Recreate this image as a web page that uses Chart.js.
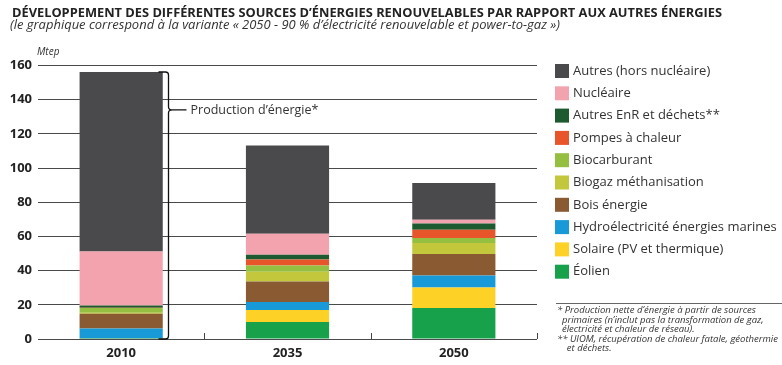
<!DOCTYPE html>
<html>
<head>
<meta charset="utf-8">
<script src="https://cdn.jsdelivr.net/npm/chart.js@4.4.1/dist/chart.umd.min.js"></script>
<style>
  html, body { margin: 0; padding: 0; background: #fff; }
  #wrap { width: 782px; height: 365px; position: relative; }
</style>
</head>
<body>
<div id="wrap"><canvas id="chart"></canvas></div>
<script>
// categories
const years = ['2010', '2035', '2050'];

// series values (Mtep), bottom of the stack first
const eolien = [0.2, 9.9, 18.1];
const solaire = [0.1, 7.1, 12.1];
const hydro = [5.9, 4.6, 7.0];
const bois = [8.6, 12.1, 12.5];
const biogaz = [0.5, 5.7, 6.4];
const biocarburant = [2.8, 3.6, 3.0];
const pompes = [0.2, 3.5, 4.8];
const autresEnr = [1.3, 2.8, 3.7];
const nucleaire = [31.6, 12.3, 2.2];
const autres = [105.0, 51.6, 21.4];

const seriesNames = [
  'Éolien', 'Solaire (PV et thermique)', 'Hydroélectricité énergies marines',
  'Bois énergie', 'Biogaz méthanisation', 'Biocarburant', 'Pompes à chaleur',
  'Autres EnR et déchets**', 'Nucléaire', 'Autres (hors nucléaire)'
];
const seriesValues = [eolien, solaire, hydro, bois, biogaz, biocarburant, pompes, autresEnr, nucleaire, autres];
const seriesColors = ['#17a14b', '#fdd125', '#199ad8', '#8a5a33', '#c3c73c', '#95bf40', '#e8552b', '#1d5a2f', '#f3a3ad', '#4a4a4c'];

// y axis ticks
const yMin = 0, yMax = 160, yStep = 20;

const titleText = 'DÉVELOPPEMENT DES DIFFÉRENTES SOURCES D\u2019ÉNERGIES RENOUVELABLES PAR RAPPORT AUX AUTRES ÉNERGIES';
const subtitleText = '(le graphique correspond à la variante « 2050 - 90 % d\u2019électricité renouvelable et power-to-gaz »)';
const unitText = 'Mtep';
const bracketText = 'Production d\u2019énergie*';
const bracketAt = 134; // value where the brace points
const footnotes = [
  '* Production nette d\u2019énergie à partir de sources',
  '  primaires (n\u2019inclut pas la transformation de gaz,',
  '  électricité et chaleur de réseau).',
  '** UIOM, récupération de chaleur fatale, géothermie',
  '    et déchets.'
];

const FONT = '"Open Sans", "Noto Sans", sans-serif';

// draw text squeezed to a given width
function fitText(ctx, text, x, y, width) {
  const w = ctx.measureText(text).width;
  ctx.save();
  ctx.translate(x, y);
  ctx.scale(Math.min(1, width / w), 1);
  ctx.fillText(text, 0, 0);
  ctx.restore();
}

const decorations = {
  id: 'decorations',
  afterDraw(chart) {
    const ctx = chart.ctx;
    const { x, y } = chart.scales;
    const area = chart.chartArea;
    ctx.save();

    // titles
    ctx.fillStyle = '#222';
    ctx.textBaseline = 'alphabetic';
    ctx.textAlign = 'left';
    ctx.font = 'bold 13px ' + FONT;
    fitText(ctx, titleText, 12, 16.5, 710);
    ctx.fillStyle = '#333';
    ctx.font = 'italic 13px ' + FONT;
    fitText(ctx, subtitleText, 10, 29, 550);
    ctx.font = 'italic 10px ' + FONT;
    ctx.fillText(unitText, 37, 55);

    // small inner ticks at category boundaries
    ctx.strokeStyle = '#444';
    ctx.lineWidth = 1;
    ctx.beginPath();
    for (let i = 0; i < years.length; i++) {
      const bx = i < years.length - 1
        ? (x.getPixelForTick(i) + x.getPixelForTick(i + 1)) / 2
        : area.right;
      ctx.moveTo(Math.round(bx) + 0.5, area.bottom);
      ctx.lineTo(Math.round(bx) + 0.5, area.bottom - 6);
    }
    ctx.stroke();

    // brace on the 2010 bar
    const topMeta = chart.getDatasetMeta(seriesValues.length - 1);
    const bar = topMeta.data[0];
    const bx = Math.round(bar.x + bar.width / 2 + 5) + 0.5;
    const top = bar.y;
    const bottom = y.getPixelForValue(0);
    const mid = y.getPixelForValue(bracketAt);
    ctx.strokeStyle = '#111';
    ctx.lineWidth = 1.3;
    ctx.beginPath();
    ctx.moveTo(bx - 10, top);
    ctx.lineTo(bx - 3, top);
    ctx.quadraticCurveTo(bx, top, bx, top + 3);
    ctx.lineTo(bx, mid - 3);
    ctx.quadraticCurveTo(bx, mid, bx + 4, mid);
    ctx.quadraticCurveTo(bx, mid, bx, mid + 3);
    ctx.lineTo(bx, bottom - 3);
    ctx.quadraticCurveTo(bx, bottom, bx - 3, bottom);
    ctx.lineTo(bx - 10, bottom);
    ctx.moveTo(bx + 4, mid);
    ctx.lineTo(bx + 18, mid);
    ctx.stroke();
    ctx.fillStyle = '#333';
    ctx.font = '12.5px ' + FONT;
    ctx.textBaseline = 'middle';
    ctx.fillText(bracketText, bx + 22, mid);

    // legend, top of the stack first
    ctx.font = '13px ' + FONT;
    ctx.textBaseline = 'middle';
    for (let i = 0; i < seriesNames.length; i++) {
      const k = seriesNames.length - 1 - i;
      const cy = 71 + i * 22.3;
      ctx.fillStyle = seriesColors[k];
      ctx.fillRect(555, cy - 7, 14, 14);
      ctx.fillStyle = '#333';
      fitText(ctx, seriesNames[k], 573, cy, 205);
    }

    // footnotes
    ctx.strokeStyle = '#666';
    ctx.lineWidth = 1;
    ctx.beginPath();
    ctx.moveTo(556, 303.5);
    ctx.lineTo(782, 303.5);
    ctx.stroke();
    ctx.fillStyle = '#333';
    ctx.font = 'italic 9.5px ' + FONT;
    footnotes.forEach((line, i) => {
      ctx.fillText(line, 557, 310.5 + i * 9.5);
    });

    ctx.restore();
  }
};

const datasets = seriesValues.map((vals, i) => ({
  label: seriesNames[i],
  data: vals,
  backgroundColor: seriesColors[i],
  borderWidth: 0,
  barPercentage: 0.5,
  categoryPercentage: 1
}));

new Chart(document.getElementById('chart'), {
  type: 'bar',
  data: { labels: years, datasets: datasets },
  plugins: [decorations],
  options: {
    responsive: true,
    maintainAspectRatio: false,
    animation: false,
    layout: { padding: { left: 0, right: 245, top: 65.5, bottom: 0 } },
    plugins: {
      legend: { display: false },
      tooltip: { enabled: false }
    },
    scales: {
      x: {
        stacked: true,
        afterFit: (s) => { s.height = 26; },
        grid: { display: false, drawTicks: false },
        border: { display: false },
        ticks: { color: '#222', padding: 6, font: { family: FONT, size: 13, weight: 'bold' } }
      },
      y: {
        stacked: true,
        min: yMin,
        max: yMax,
        afterFit: (s) => { s.width = 38; },
        grid: { color: '#4a4a4a', lineWidth: 1, drawTicks: false },
        border: { display: false },
        ticks: { stepSize: yStep, color: '#222', padding: 6, font: { family: FONT, size: 13, weight: 'bold' } }
      }
    }
  }
});
</script>
</body>
</html>
